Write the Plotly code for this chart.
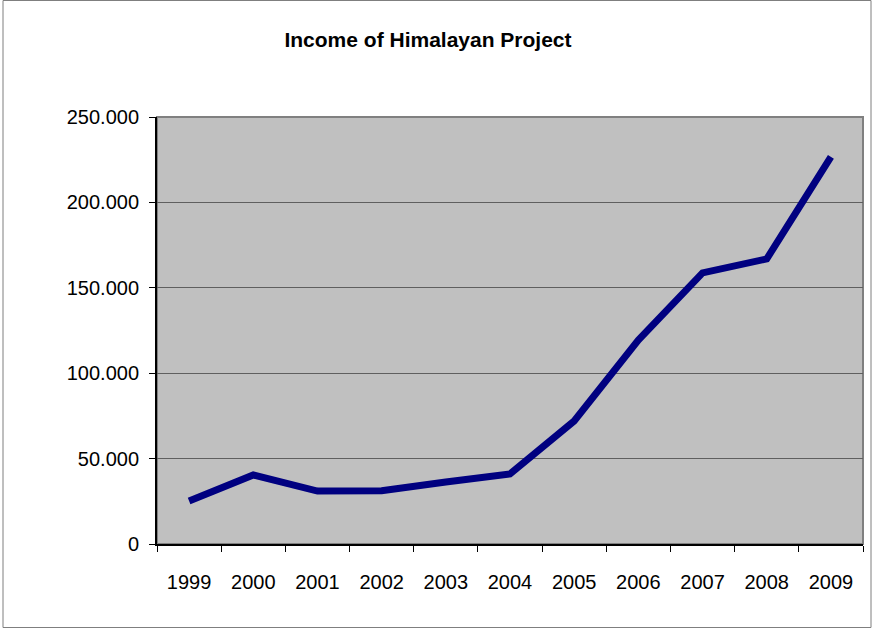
import plotly.graph_objects as go

years = ["1999", "2000", "2001", "2002", "2003", "2004", "2005", "2006", "2007", "2008", "2009"]
income = [25200, 40400, 31000, 31200, 36300, 41000, 72000, 119400, 158700, 166900, 226600]
y_tickvals = [0, 50000, 100000, 150000, 200000, 250000]
y_ticktext = ["0", "50.000", "100.000", "150.000", "200.000", "250.000"]

FONT = "Liberation Sans, Arial, sans-serif"

fig = go.Figure()
fig.add_trace(go.Scatter(
    x=years, y=income, mode="lines",
    line=dict(color="#000080", width=7),
    hoverinfo="x+y",
))

W, H = 872, 629
L, R, T, B = 157, 9, 117, 85
pw, ph = W - L - R, H - T - B

def px_x(p):
    return (p - L) / pw

def px_y(p):
    return (H - B - p) / ph

fig.update_layout(
    width=W, height=H,
    margin=dict(l=L, r=R, t=T, b=B),
    paper_bgcolor="white",
    plot_bgcolor="#C0C0C0",
    showlegend=False,
    title=dict(text="<b>Income of Himalayan Project</b>", x=428 / W, xanchor="center",
               y=1 - 40 / H, yanchor="middle",
               font=dict(family=FONT, size=21, color="black")),
    font=dict(family=FONT, size=20, color="black"),
    shapes=[
        dict(type="rect", xref="paper", yref="paper",
             x0=px_x(3), x1=px_x(871), y0=px_y(627.5), y1=px_y(0.5),
             line=dict(color="#7f7f7f", width=1), layer="below"),
        dict(type="rect", xref="paper", yref="paper",
             x0=0, x1=1, y0=0, y1=1,
             line=dict(color="#808080", width=2), layer="below"),
    ],
)

fig.update_xaxes(
    type="category", tickson="boundaries", ticks="outside", ticklen=6,
    range=[-0.5, len(years) - 0.5],
    tickcolor="black", tickwidth=1,
    showline=True, linecolor="black", linewidth=2,
    showgrid=False, zeroline=False,
    ticklabelstandoff=19,
    tickfont=dict(family=FONT, size=20, color="black"),
)
fig.update_yaxes(
    range=[0, 250000], tickvals=y_tickvals, ticktext=y_ticktext,
    ticks="outside", ticklen=6, tickcolor="black", tickwidth=1,
    showline=True, linecolor="black", linewidth=2,
    showgrid=True, gridcolor="#5f5f5f", gridwidth=1,
    zeroline=False,
    ticklabelstandoff=6,
    tickfont=dict(family=FONT, size=20, color="black"),
)

fig.write_html("out.html", config={"displayModeBar": False},
               post_script="document.body.style.margin='0';document.body.style.overflow='hidden';")
